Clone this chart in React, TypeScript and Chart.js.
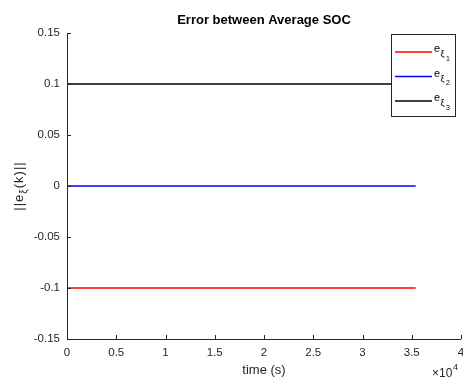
import React, { useEffect, useRef } from "react";
import { Chart, registerables } from "chart.js";

Chart.register(...registerables);

// Simulation time span (s) and the SOC error of each cluster
const timeSpan = [0, 35400];
const errorXi1 = [-0.1, -0.1];
const errorXi2 = [0, 0];
const errorXi3 = [0.1, 0.1];
const seriesIndex = ["1", "2", "3"];
const seriesColors = ["#ff0000", "#0000ff", "#000000"];

const xTickValues = [0, 5000, 10000, 15000, 20000, 25000, 30000, 35000, 40000];
const xTickLabels = ["0", "0.5", "1", "1.5", "2", "2.5", "3", "3.5", "4"];
const yTickValues = [-0.15, -0.1, -0.05, 0, 0.05, 0.1, 0.15];
const yTickLabels = ["-0.15", "-0.1", "-0.05", "0", "0.05", "0.1", "0.15"];

const titleText = "Error between Average SOC";
const xAxisTitle = "time (s)";
const xExponent = "4";

const FONT = "'Liberation Sans', Arial, Helvetica, sans-serif";
const AXIS_COLOR = "#262626";
const LINE_WIDTH = 1.5;

const W = 463;
const H = 381;
const AREA = { left: 67, right: 461, top: 33, bottom: 339 };

const decorations = {
  id: "matlabDecor",
  afterDraw(chart: any) {
    const ctx = chart.ctx as CanvasRenderingContext2D;
    const xs = chart.scales.x;
    const ys = chart.scales.y;
    const { left, right, top, bottom } = chart.chartArea;
    ctx.save();

    // axis lines (left + bottom)
    ctx.strokeStyle = AXIS_COLOR;
    ctx.lineWidth = 1;
    ctx.beginPath();
    ctx.moveTo(left + 0.5, top);
    ctx.lineTo(left + 0.5, bottom + 0.5);
    ctx.lineTo(right, bottom + 0.5);
    ctx.stroke();

    // inward tick marks
    ctx.beginPath();
    xTickValues.forEach((v) => {
      const px = Math.round(xs.getPixelForValue(v)) + 0.5;
      ctx.moveTo(px, bottom);
      ctx.lineTo(px, bottom - 4);
    });
    yTickValues.forEach((v) => {
      const py = Math.round(ys.getPixelForValue(v)) + 0.5;
      ctx.moveTo(left, py);
      ctx.lineTo(left + 4, py);
    });
    ctx.stroke();

    // title
    ctx.fillStyle = "#000000";
    ctx.font = `bold 13px ${FONT}`;
    ctx.textAlign = "center";
    ctx.textBaseline = "middle";
    ctx.fillText(titleText, (left + right) / 2, 20);

    // x axis title and exponent
    ctx.fillStyle = AXIS_COLOR;
    ctx.font = `13px ${FONT}`;
    ctx.fillText(xAxisTitle, (left + right) / 2, 370);
    ctx.textAlign = "left";
    ctx.font = `12px ${FONT}`;
    ctx.fillText("\u00d710", 432, 374);
    ctx.font = `9px ${FONT}`;
    ctx.fillText(xExponent, 453, 368);

    // y axis title: ||e_ξ(k)||
    ctx.save();
    ctx.translate(19, (top + bottom) / 2);
    ctx.rotate(-Math.PI / 2);
    (ctx as any).letterSpacing = "1px";
    const p1 = "||e";
    const sub = "\u03be";
    const p2 = "(k)||";
    ctx.font = `13px ${FONT}`;
    const w1 = ctx.measureText(p1).width;
    const w3 = ctx.measureText(p2).width;
    ctx.font = `10px ${FONT}`;
    const w2 = ctx.measureText(sub).width;
    let x0 = -(w1 + w2 + w3) / 2;
    ctx.textAlign = "left";
    ctx.font = `13px ${FONT}`;
    ctx.fillText(p1, x0, 0);
    x0 += w1;
    ctx.font = `10px ${FONT}`;
    ctx.fillText(sub, x0, 5);
    x0 += w2;
    ctx.font = `13px ${FONT}`;
    ctx.fillText(p2, x0, 0);
    ctx.restore();

    // legend box
    const bx = 391, by = 34, bw = 64, bh = 82;
    ctx.fillStyle = "#ffffff";
    ctx.fillRect(bx, by, bw, bh);
    ctx.strokeStyle = AXIS_COLOR;
    ctx.lineWidth = 1;
    ctx.strokeRect(bx + 0.5, by + 0.5, bw, bh);
    seriesIndex.forEach((idx, i) => {
      const ly = 52 + i * 24.5;
      ctx.strokeStyle = seriesColors[i];
      ctx.lineWidth = LINE_WIDTH;
      ctx.beginPath();
      ctx.moveTo(395, ly);
      ctx.lineTo(432, ly);
      ctx.stroke();
      ctx.fillStyle = "#000000";
      ctx.textAlign = "left";
      ctx.font = `11px ${FONT}`;
      ctx.fillText("e", 434, ly - 3);
      ctx.font = `9px ${FONT}`;
      ctx.fillText("\u03be", 440.5, ly + 3);
      ctx.font = `7px ${FONT}`;
      ctx.fillText(idx, 446, ly + 7);
    });

    ctx.restore();
  },
};

export default function App() {
  const canvasRef = useRef<HTMLCanvasElement | null>(null);

  useEffect(() => {
    if (!canvasRef.current) return;
    const mk = (ys: number[]) => timeSpan.map((t, i) => ({ x: t, y: ys[i] }));
    const chart = new Chart(canvasRef.current, {
      type: "line",
      data: {
        datasets: [errorXi1, errorXi2, errorXi3].map((ys, i) => ({
          label: "e_\u03be" + seriesIndex[i],
          data: mk(ys),
          borderColor: seriesColors[i],
          backgroundColor: seriesColors[i],
          borderWidth: LINE_WIDTH,
          pointRadius: 0,
          tension: 0,
        })),
      },
      options: {
        animation: false,
        responsive: false,
        maintainAspectRatio: false,
        layout: { padding: { top: AREA.top, right: W - AREA.right, left: 0, bottom: 0 } },
        plugins: { legend: { display: false }, tooltip: { enabled: false }, title: { display: false } },
        scales: {
          x: {
            type: "linear",
            min: 0,
            max: 40000,
            border: { display: false },
            grid: { display: false, drawTicks: false },
            afterBuildTicks: (s: any) => {
              s.ticks = xTickValues.map((v) => ({ value: v }));
            },
            ticks: {
              padding: 7,
              autoSkip: false,
              maxRotation: 0,
              color: AXIS_COLOR,
              font: { family: FONT, size: 11.5 },
              callback: (v: any) => xTickLabels[xTickValues.indexOf(Number(v))] ?? "",
            },
            afterFit: (s: any) => {
              s.height = H - AREA.bottom;
              s.paddingLeft = 0;
              s.paddingRight = 0;
            },
          },
          y: {
            type: "linear",
            min: -0.15,
            max: 0.15,
            border: { display: false },
            grid: { display: false, drawTicks: false },
            afterBuildTicks: (s: any) => {
              s.ticks = yTickValues.map((v) => ({ value: v }));
            },
            ticks: {
              padding: 7,
              color: AXIS_COLOR,
              font: { family: FONT, size: 11.5 },
              callback: (v: any) => {
                const idx = yTickValues.findIndex((t) => Math.abs(t - Number(v)) < 1e-9);
                return idx >= 0 ? yTickLabels[idx] : "";
              },
            },
            afterFit: (s: any) => {
              s.width = AREA.left;
              s.paddingTop = 0;
              s.paddingBottom = 0;
            },
          },
        },
      },
      plugins: [decorations],
    });
    return () => chart.destroy();
  }, []);

  return (
    <div style={{ position: "fixed", left: 0, top: 0, width: W, height: H, background: "#fff" }}>
      <canvas ref={canvasRef} width={W} height={H} style={{ width: W, height: H }} />
    </div>
  );
}
